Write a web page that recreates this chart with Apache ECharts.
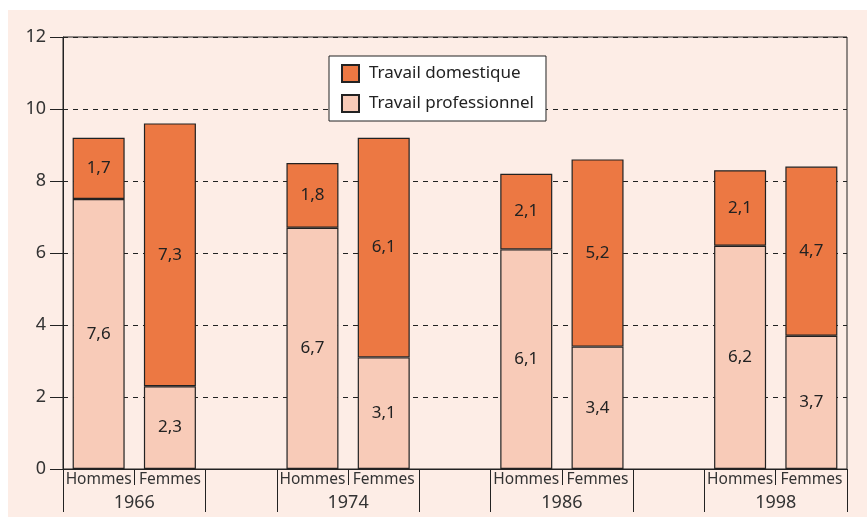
<!DOCTYPE html>
<html>
<head>
<meta charset="utf-8">
<script src="https://cdn.jsdelivr.net/npm/echarts@6/dist/echarts.min.js"></script>
<style>
  html, body { margin: 0; padding: 0; background: #fff; }
  #chart { position: absolute; left: 8px; top: 10px; width: 859px; height: 507px; background: #fdede6; }
</style>
</head>
<body>
<div id="chart"></div>
<script>
// one slot per bar, empty slot between years
const categories = ['Hommes', 'Femmes', '', 'Hommes', 'Femmes', '', 'Hommes', 'Femmes', '', 'Hommes', 'Femmes']
const years = ['1966', '1974', '1986', '1998']
const professionnel = [7.5, 2.3, null, 6.7, 3.1, null, 6.1, 3.4, null, 6.2, 3.7]
const domestique = [1.7, 7.3, null, 1.8, 6.1, null, 2.1, 5.2, null, 2.1, 4.7]
const professionnelLabels = ['7,6', '2,3', '', '6,7', '3,1', '', '6,1', '3,4', '', '6,2', '3,7']
const domestiqueLabels = ['1,7', '7,3', '', '1,8', '6,1', '', '2,1', '5,2', '', '2,1', '4,7']

// half-slot points for the year row (year sits between Hommes and Femmes)
const yearAxis = []
for (let i = 0; i <= 22; i++) {
  yearAxis.push(i % 6 === 2 ? years[(i - 2) / 6] : '')
}

const font = '"Noto Sans", "Open Sans", sans-serif'
const chart = echarts.init(document.getElementById('chart'))

chart.setOption({
  animation: false,
  textStyle: { fontFamily: font },
  grid: {
    left: 55,
    right: 20,
    top: 27,
    bottom: 48,
    show: true,
    borderColor: '#222',
    borderWidth: 1,
    backgroundColor: 'transparent'
  },
  legend: {
    orient: 'vertical',
    left: 321,
    top: 46,
    padding: [8, 12, 8, 12],
    icon: 'rect',
    itemWidth: 17,
    itemHeight: 17,
    itemGap: 11,
    backgroundColor: '#fff',
    borderColor: '#222',
    borderWidth: 1,
    borderRadius: 0,
    data: ['Travail domestique', 'Travail professionnel'],
    textStyle: { fontSize: 17, color: '#222', fontFamily: font, padding: [0, 0, 0, 5] }
  },
  xAxis: [
    {
      type: 'category',
      data: categories,
      axisLine: { lineStyle: { color: '#222', width: 1 } },
      axisTick: { show: true, length: 16, interval: 0, lineStyle: { color: '#222' } },
      axisLabel: { interval: 0, margin: 3, fontSize: 15.5, color: '#333', fontFamily: font }
    },
    {
      type: 'category',
      position: 'bottom',
      boundaryGap: false,
      data: yearAxis,
      axisLine: { show: false },
      axisTick: {
        show: true,
        length: 43,
        interval: function (i) { return i % 6 === 0 || i % 6 === 4 },
        lineStyle: { color: '#222' }
      },
      axisLabel: { interval: 0, margin: 25, fontSize: 18, color: '#333', fontFamily: font }
    }
  ],
  yAxis: {
    type: 'value',
    min: 0,
    max: 12,
    interval: 2,
    axisLine: { show: true, lineStyle: { color: '#222' } },
    axisTick: { show: true, inside: false, length: 13, lineStyle: { color: '#222' } },
    axisLabel: { margin: 17, fontSize: 18, color: '#333', fontFamily: font },
    splitLine: { show: true, lineStyle: { color: '#222', type: [5, 5], width: 1 } }
  },
  series: [
    {
      name: 'Travail professionnel',
      type: 'bar',
      stack: 'total',
      barWidth: 52,
      data: professionnel,
      itemStyle: { color: '#f8cbb8', borderColor: '#222', borderWidth: 1.2 },
      label: {
        show: true,
        position: 'inside',
        fontSize: 17,
        color: '#222',
        fontFamily: font,
        formatter: p => professionnelLabels[p.dataIndex]
      }
    },
    {
      name: 'Travail domestique',
      type: 'bar',
      stack: 'total',
      barWidth: 52,
      data: domestique,
      itemStyle: { color: '#ec7843', borderColor: '#222', borderWidth: 1.2 },
      label: {
        show: true,
        position: 'inside',
        fontSize: 17,
        color: '#222',
        fontFamily: font,
        formatter: p => domestiqueLabels[p.dataIndex]
      }
    }
  ]
})
</script>
</body>
</html>
